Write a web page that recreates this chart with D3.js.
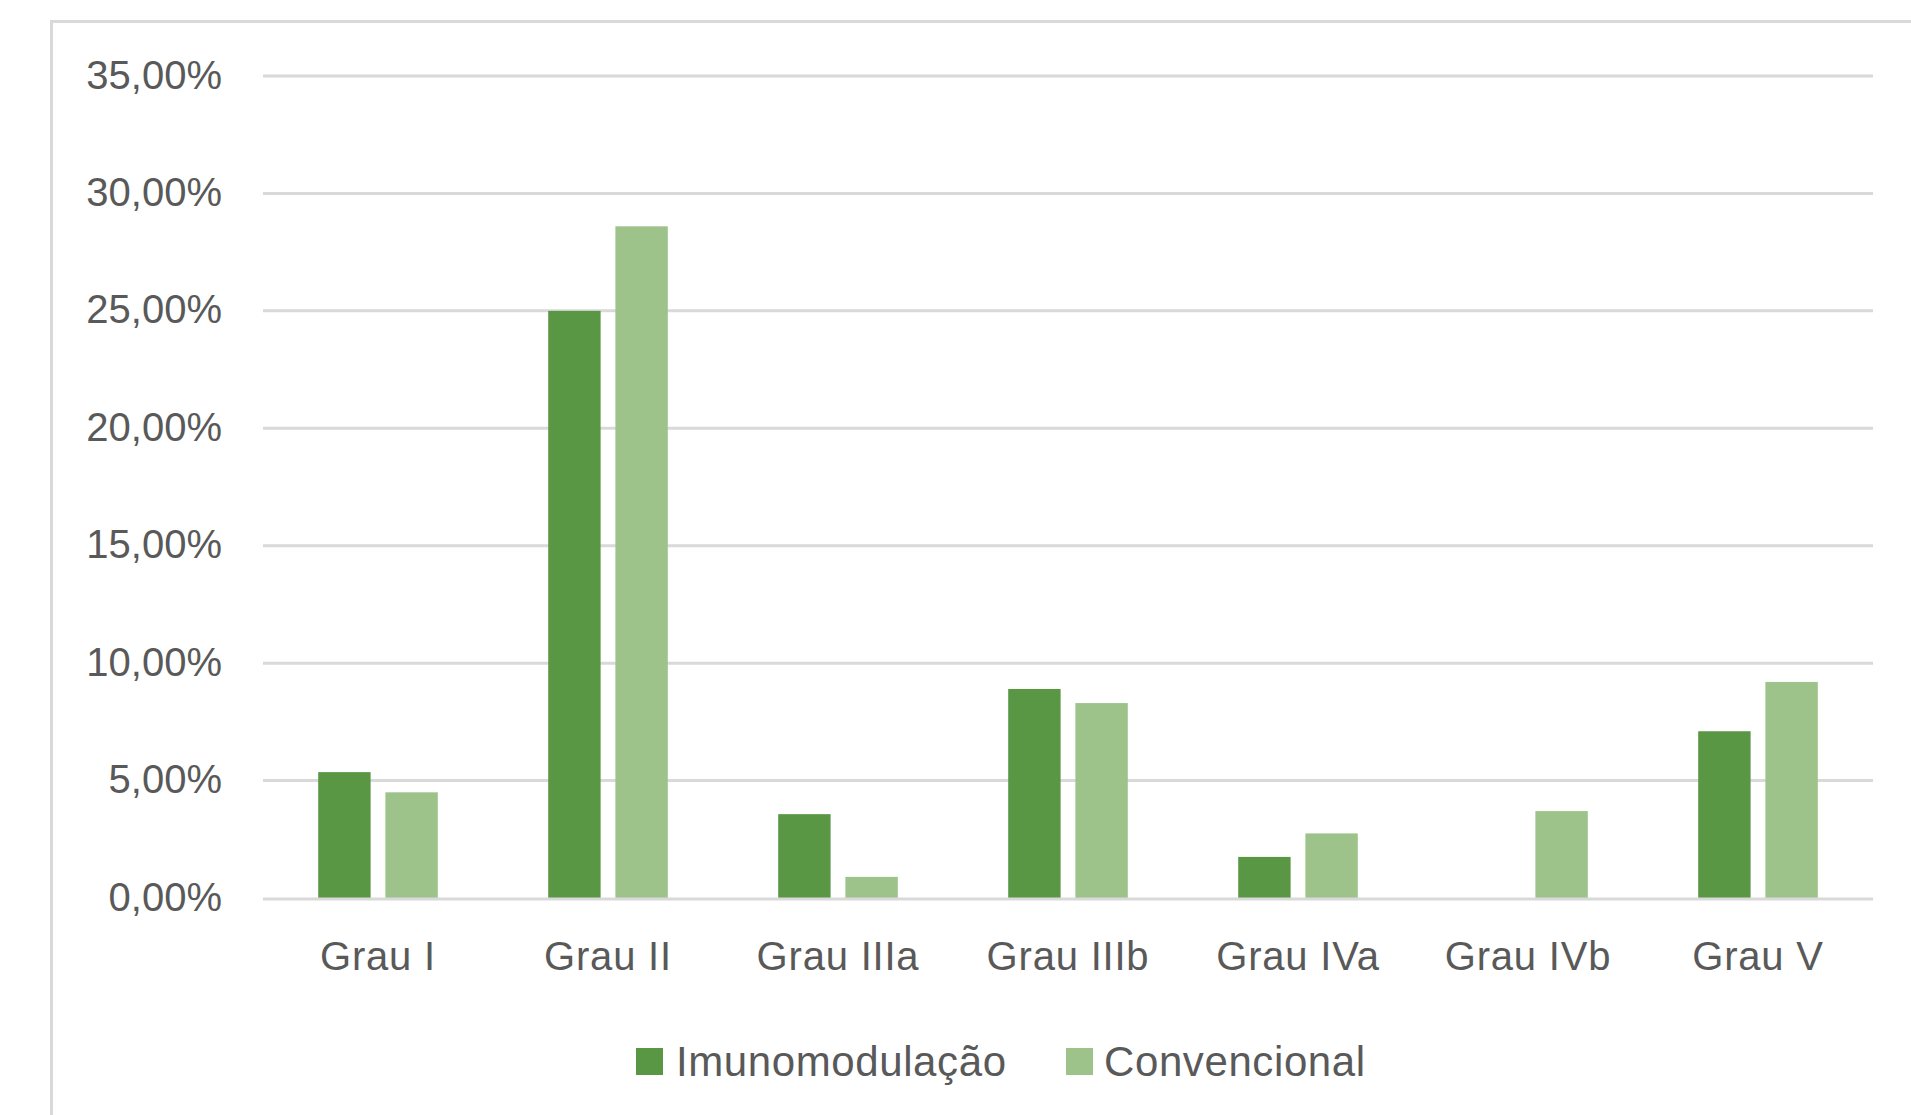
<!DOCTYPE html>
<html>
<head>
<meta charset="utf-8">
<script src="https://cdn.jsdelivr.net/npm/d3@7"></script>
<style>
  html, body { margin: 0; padding: 0; background: #ffffff; }
  svg { display: block; }
</style>
</head>
<body>
<script>
// ---- data ----
const categories = ["Grau I", "Grau II", "Grau IIIa", "Grau IIIb", "Grau IVa", "Grau IVb", "Grau V"];
const seriesNames = ["Imunomodulação", "Convencional"];
const imunomodulacao = [5.36, 25.0, 3.57, 8.9, 1.75, 0, 7.1];
const convencional = [4.5, 28.6, 0.9, 8.3, 2.75, 3.7, 9.2];
const yTicks = [0, 5, 10, 15, 20, 25, 30, 35];
const colors = ["#5a9744", "#9dc38b"];

(function () {
const W = 1911, H = 1115;
const svg = d3.select("body").append("svg").attr("width", W).attr("height", H);
const font = "'Liberation Sans', Arial, sans-serif";

// chart border (extends past the window at right and bottom)
svg.append("rect")
  .attr("x", 51.5).attr("y", 21.5)
  .attr("width", W + 20).attr("height", H + 20)
  .attr("fill", "none").attr("stroke", "#d9d9d9").attr("stroke-width", 3);

const pLeft = 263, pRight = 1873, pTop = 76, pBottom = 898;

const y = d3.scaleLinear().domain([0, 35]).range([pBottom, pTop]);
const x0 = d3.scaleBand().domain(categories).range([pLeft, pRight]).paddingInner(0.48).paddingOuter(0.24);
const x1 = d3.scaleBand().domain(seriesNames).range([0, x0.bandwidth()]).paddingInner(0.22);

const locale = d3.formatLocale({ decimal: ",", thousands: ".", grouping: [3], currency: ["", "€"] });
const fmt = v => locale.format(".2f")(v) + "%";

// gridlines
svg.append("g").selectAll("line").data(yTicks.filter(t => t !== 0)).join("line")
  .attr("x1", pLeft).attr("x2", pRight)
  .attr("y1", d => y(d)).attr("y2", d => y(d))
  .attr("stroke", "#d9d9d9").attr("stroke-width", 3);

// bars
const rows = categories.map((c, i) => ({ cat: c, vals: [imunomodulacao[i], convencional[i]] }));
const groups = svg.append("g").selectAll("g").data(rows).join("g")
  .attr("transform", d => `translate(${x0(d.cat)},0)`);
groups.selectAll("rect").data(d => d.vals.map((v, j) => ({ key: seriesNames[j], v, j }))).join("rect")
  .attr("x", d => x1(d.key))
  .attr("width", x1.bandwidth())
  .attr("y", d => y(d.v))
  .attr("height", d => y(0) - y(d.v))
  .attr("fill", d => colors[d.j]);

// baseline
svg.append("line")
  .attr("x1", pLeft).attr("x2", pRight)
  .attr("y1", y(0) + 1).attr("y2", y(0) + 1)
  .attr("stroke", "#d9d9d9").attr("stroke-width", 3);

// y axis
const yAxis = svg.append("g").attr("transform", `translate(${pLeft},0)`)
  .call(d3.axisLeft(y).tickValues(yTicks).tickFormat(fmt).tickSize(0).tickPadding(41));
yAxis.select(".domain").remove();
yAxis.selectAll("text")
  .attr("font-family", font).attr("font-size", 40).attr("fill", "#595959").attr("dy", "0.3em");

// x axis
const xAxis = svg.append("g").attr("transform", `translate(0,${pBottom})`)
  .call(d3.axisBottom(x0).tickSize(0).tickPadding(44));
xAxis.select(".domain").remove();
xAxis.selectAll("text")
  .attr("font-family", font).attr("font-size", 40).attr("fill", "#595959")
  .attr("letter-spacing", "0.8px");

// legend
const legendX = [636, 1066];
const leg = svg.append("g").selectAll("g").data(seriesNames).join("g")
  .attr("transform", (d, i) => `translate(${legendX[i]},1048)`);
leg.append("rect").attr("width", 27).attr("height", 27).attr("fill", (d, i) => colors[i]);
leg.append("text").attr("x", (d, i) => i === 0 ? 40 : 38).attr("y", 28)
  .attr("font-family", font).attr("font-size", 42).attr("fill", "#595959")
  .attr("letter-spacing", "0.6px")
  .text(d => d);
})();
</script>
</body>
</html>
